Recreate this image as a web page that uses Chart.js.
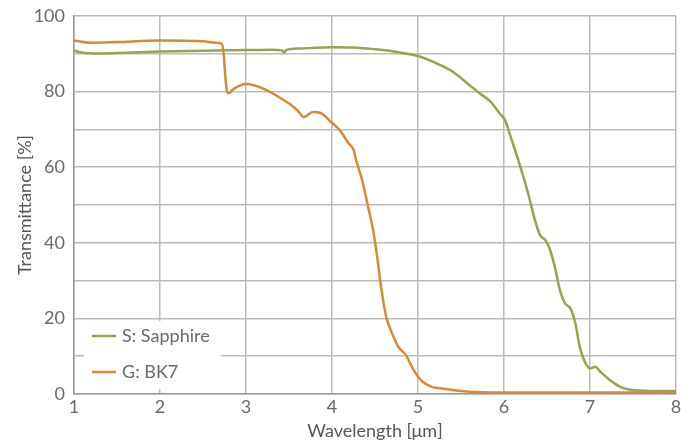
<!DOCTYPE html>
<html>
<head>
<meta charset="utf-8">
<script src="https://cdn.jsdelivr.net/npm/chart.js@4"></script>
<style>
  html, body { margin: 0; padding: 0; background: #fff; }
  #wrap { width: 692px; height: 442px; }
</style>
</head>
<body>
<div id="wrap"><canvas id="chart" width="692" height="442"></canvas></div>
<script>
// Sapphire (S) transmittance curve
const sapphireX = [1.0, 1.1, 1.3, 1.6, 2.0, 2.5, 3.0, 3.3, 3.42, 3.44, 3.47, 3.63, 4.0, 4.3, 4.5, 4.7, 4.8,
    5.0, 5.26, 5.4, 5.6, 5.72, 5.84, 5.95, 6.01, 6.09, 6.19, 6.28, 6.36, 6.42, 6.48, 6.53, 6.59, 6.65,
    6.71, 6.77, 6.83, 6.88, 6.94, 7.0, 7.06, 7.12, 7.23, 7.35, 7.47, 7.7, 8.0];
const sapphireY = [90.8, 90.3, 90.1, 90.3, 90.6, 90.8, 91.0, 91.1, 90.9, 90.3, 91.0, 91.4, 91.7, 91.6, 91.2, 90.7, 90.3,
    89.4, 87.0, 85.3, 81.7, 79.5, 77.4, 74.2, 72.5, 67.2, 60.1, 53.1, 46.0, 42.0, 40.7, 38.5, 33.7, 27.5,
    24.0, 22.7, 18.7, 12.5, 8.5, 6.8, 7.2, 5.9, 3.7, 1.9, 1.1, 0.8, 0.8];

// BK7 glass (G) transmittance curve
const bk7X = [1.0, 1.05, 1.2, 1.5, 2.0, 2.5, 2.65, 2.72, 2.74, 2.76, 2.78, 2.8, 2.85, 3.0, 3.24, 3.4, 3.51, 3.6,
    3.67, 3.78, 3.86, 4.0, 4.09, 4.19, 4.25, 4.28, 4.35, 4.42, 4.47, 4.52, 4.57, 4.63, 4.7, 4.77, 4.86,
    4.95, 5.05, 5.16, 5.26, 5.6, 6.0, 7.0, 8.0];
const bk7Y = [93.6, 93.3, 92.9, 93.1, 93.5, 93.3, 92.9, 92.6, 90.0, 84.0, 80.0, 79.6, 80.6, 82.0, 80.4, 78.3, 76.7, 75.0,
    73.3, 74.6, 74.4, 71.7, 69.8, 66.4, 64.6, 61.9, 56.6, 49.5, 44.3, 37.2, 28.4, 20.4, 16.0, 12.5, 10.3,
    6.3, 3.3, 1.9, 1.5, 0.6, 0.4, 0.4, 0.4];

const seriesNames = ['S: Sapphire', 'G: BK7'];
const seriesColors = ['#93a553', '#d98838'];

const xTicks = [1, 2, 3, 4, 5, 6, 7, 8];
const yTicks = [0, 20, 40, 60, 80, 100];

const FONT = 'Lato, "Open Sans", sans-serif';

function toPoints(xs, ys) {
    return xs.map((x, i) => ({ x: x, y: ys[i] }));
}

// legend sits inside the plot, lower left, on a white box
const insideLegend = {
    id: 'insideLegend',
    afterDraw(chart) {
        const ctx = chart.ctx;
        const area = chart.chartArea;
        const boxX = area.left + 10;
        const boxY = area.bottom - 73;
        ctx.save();
        ctx.fillStyle = '#fff';
        ctx.fillRect(boxX, boxY, 137, 68);
        ctx.font = '18px ' + FONT;
        ctx.textBaseline = 'middle';
        seriesNames.forEach((name, i) => {
            const y = boxY + 15 + i * 36;
            ctx.strokeStyle = seriesColors[i];
            ctx.lineWidth = 2.5;
            ctx.beginPath();
            ctx.moveTo(boxX + 8, y);
            ctx.lineTo(boxX + 32, y);
            ctx.stroke();
            ctx.fillStyle = '#6a6a6a';
            ctx.fillText(name, boxX + 38, y);
        });
        ctx.restore();
    }
};

new Chart(document.getElementById('chart'), {
    type: 'line',
    data: {
        datasets: [{
            label: seriesNames[0],
            data: toPoints(sapphireX, sapphireY),
            borderColor: seriesColors[0],
            borderWidth: 2.5,
            pointRadius: 0,
            cubicInterpolationMode: 'monotone',
            fill: false
        }, {
            label: seriesNames[1],
            data: toPoints(bk7X, bk7Y),
            borderColor: seriesColors[1],
            borderWidth: 2.5,
            pointRadius: 0,
            cubicInterpolationMode: 'monotone',
            fill: false
        }]
    },
    options: {
        responsive: false,
        animation: false,
        layout: { padding: { left: 0, right: 16, top: 16, bottom: 0 } },
        plugins: {
            legend: { display: false },
            tooltip: { enabled: false }
        },
        scales: {
            x: {
                type: 'linear',
                min: 1,
                max: 8,
                afterBuildTicks: (scale) => { scale.ticks = xTicks.map(v => ({ value: v })); },
                afterFit: (scale) => {
                    scale.height = 48;
                    scale.paddingLeft = 0;
                    scale.paddingRight = 0;
                },
                ticks: { color: '#6a6a6a', font: { family: FONT, size: 18 }, padding: 2, maxRotation: 0 },
                grid: { color: '#bbb', lineWidth: 1.5, drawTicks: false },
                border: { color: '#999', width: 1.5 },
                title: {
                    display: true,
                    text: 'Wavelength [μm]',
                    color: '#555',
                    font: { family: FONT, size: 18 },
                    padding: { top: 0, bottom: 0 }
                }
            },
            y: {
                min: 0,
                max: 100,
                afterBuildTicks: (scale) => {
                    const t = [];
                    for (let v = 0; v <= 100; v += 10) t.push({ value: v });
                    scale.ticks = t;
                },
                afterFit: (scale) => {
                    scale.width = 74;
                    scale.paddingTop = 0;
                    scale.paddingBottom = 0;
                },
                ticks: {
                    color: '#6a6a6a',
                    font: { family: FONT, size: 18 },
                    padding: 9,
                    callback: (v) => yTicks.includes(v) ? String(v) : ''
                },
                grid: { color: '#bbb', lineWidth: 1.5, drawTicks: false },
                border: { color: '#999', width: 1.5 },
                title: {
                    display: true,
                    text: 'Transmittance [%]',
                    color: '#555',
                    font: { family: FONT, size: 18 },
                    padding: { top: 14, bottom: 0 }
                }
            }
        }
    },
    plugins: [insideLegend]
});
</script>
</body>
</html>
